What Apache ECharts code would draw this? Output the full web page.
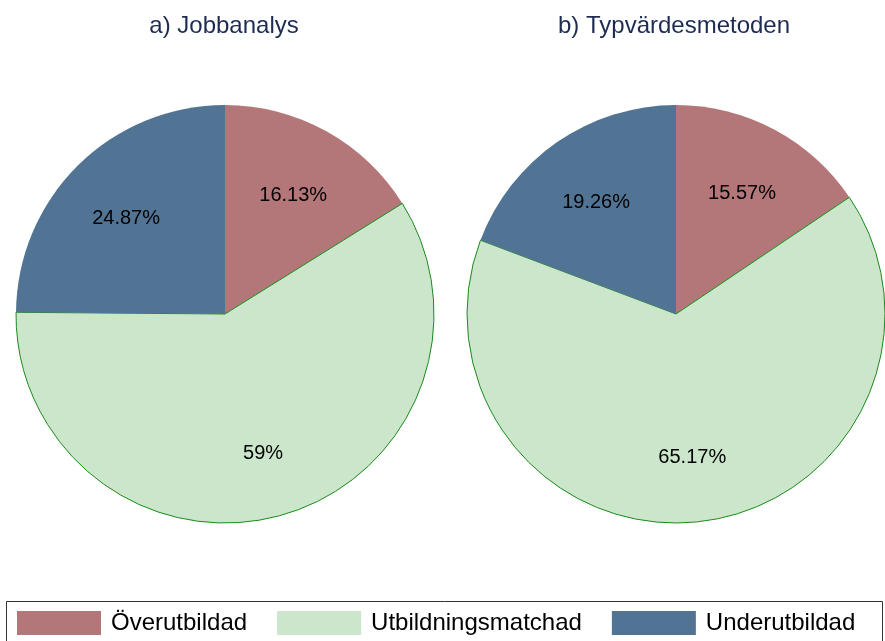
<!DOCTYPE html>
<html>
<head>
<meta charset="utf-8">
<script src="https://cdn.jsdelivr.net/npm/echarts@6/dist/echarts.min.js"></script>
<style>
html, body { margin: 0; padding: 0; background: #fff; }
#main { width: 885px; height: 641px; }
</style>
</head>
<body>
<div id="main"></div>
<script>
var categories = ['Överutbildad', 'Utbildningsmatchad', 'Underutbildad'];
var colors = ['#b47779', '#cce6cc', '#527494'];
var jobbanalys = [16.13, 59, 24.87];
var typvarde = [15.57, 65.17, 19.26];
var titles = ['a) Jobbanalys', 'b) Typvärdesmetoden'];

var chart = echarts.init(document.getElementById('main'));

function slices(values) {
	var out = [];
	for (var i = 0; i < values.length; i++) {
		var d = { name: categories[i], value: values[i] };
		if (i == 1) {
			d.itemStyle = { borderColor: '#1a8a1a', borderWidth: 1 };
		}
		out.push(d);
	}
	return out;
}

function pie(values, cx) {
	return {
		type: 'pie',
		center: [cx, 314],
		radius: [0, 209],
		startAngle: 90,
		clockwise: true,
		silent: true,
		label: { show: false },
		labelLine: { show: false },
		data: slices(values)
	};
}

// transparent ring only to place the percent labels further out
function labels(values, cx) {
	return {
		type: 'pie',
		center: [cx, 314],
		radius: [66, 209],
		startAngle: 90,
		clockwise: true,
		silent: true,
		legendHoverLink: false,
		itemStyle: { color: 'rgba(0,0,0,0)', borderWidth: 0 },
		label: {
			show: true,
			position: 'inside',
			formatter: '{c}%',
			color: '#000',
			fontSize: 20,
			fontFamily: 'Liberation Sans'
		},
		labelLayout: { dy: 4 },
		labelLine: { show: false },
		data: values.map(function (v, i) { return { name: categories[i] + ' ', value: v }; })
	};
}

var titleStyle = { color: '#1e2c52', fontSize: 24, fontWeight: 'normal', fontFamily: 'Liberation Sans' };

var option = {
	animation: false,
	color: colors,
	title: [{
		text: titles[0],
		left: 219,
		top: 9,
		textAlign: 'center',
		textStyle: titleStyle
	}, {
		text: titles[1],
		left: 669,
		top: 9,
		textAlign: 'center',
		textStyle: titleStyle
	}],
	legend: {
		data: categories,
		left: 17,
		top: 611,
		padding: 0,
		itemWidth: 84,
		itemHeight: 24,
		itemGap: 30,
		icon: 'rect',
		selectedMode: false,
		itemStyle: { borderWidth: 0 },
		textStyle: { color: '#000', fontSize: 24, fontFamily: 'Liberation Sans', padding: [0, 0, 0, 5] }
	},
	graphic: [{
		type: 'rect',
		shape: { x: 6.5, y: 601.5, width: 876, height: 50 },
		style: { fill: 'none', stroke: '#333', lineWidth: 1 }
	}],
	series: [
		pie(jobbanalys, 225),
		pie(typvarde, 676),
		labels(jobbanalys, 225),
		labels(typvarde, 676)
	]
};

chart.setOption(option);
</script>
</body>
</html>
